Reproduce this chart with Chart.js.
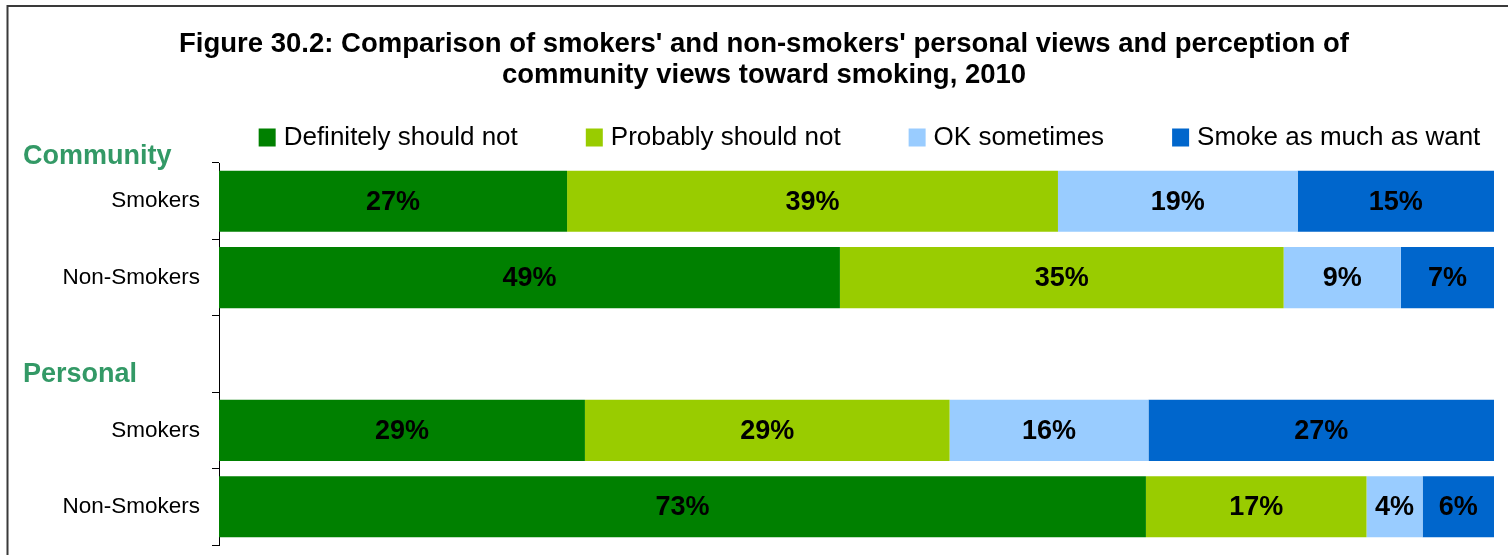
<!DOCTYPE html>
<html>
<head>
<meta charset="utf-8">
<script src="https://cdn.jsdelivr.net/npm/chart.js@4/dist/chart.umd.min.js"></script>
<style>
  html, body { margin: 0; padding: 0; background: #fff; }
  #wrap { width: 1508px; height: 555px; position: relative; }
</style>
</head>
<body>
<div id="wrap"><canvas id="c" width="1508" height="555"></canvas></div>
<script>
// ---- Data ----
const titleLines = [
  "Figure 30.2: Comparison of smokers' and non-smokers' personal views and perception of",
  "community views toward smoking, 2010"
];
const categories = ['Smokers', 'Non-Smokers', '', 'Smokers', 'Non-Smokers'];
const groupLabels = ['Community', 'Personal'];
const seriesNames = ['Definitely should not', 'Probably should not', 'OK sometimes', 'Smoke as much as want'];
const definitelyNot = [27.3, 48.7, null, 28.7, 72.7];
const probablyNot   = [38.5, 34.8, null, 28.6, 17.3];
const okSometimes   = [18.8,  9.2, null, 15.6,  4.4];
const smokeAsMuch   = [15.4,  7.3, null, 27.1,  5.6];
const seriesColors = ['#008000', '#99CC00', '#99CCFF', '#0066CC'];

const FONT = "'Liberation Sans', Arial, Helvetica, sans-serif";

const decorPlugin = {
  id: 'decor',
  beforeDraw(chart) {
    const ctx = chart.ctx;
    ctx.save();
    ctx.fillStyle = '#ffffff';
    ctx.fillRect(0, 0, chart.width, chart.height);
    // outer frame
    ctx.strokeStyle = '#3a3a3a';
    ctx.lineWidth = 2;
    ctx.strokeRect(7.5, 6, 1514, 620);
    ctx.restore();
  },
  afterDraw(chart) {
    const ctx = chart.ctx;
    ctx.save();
    // title
    ctx.fillStyle = '#000';
    ctx.font = "bold 27.5px " + FONT;
    ctx.textAlign = 'center';
    ctx.textBaseline = 'middle';
    titleLines.forEach((t, i) => ctx.fillText(t, 764, 44 + i * 31.5));

    // legend
    ctx.font = "26px " + FONT;
    const box = 17, gap = 8, pad = 68;
    const ds = chart.data.datasets;
    const widths = ds.map(d => box + gap + ctx.measureText(d.label).width);
    const total = widths.reduce((a, b) => a + b, 0) + pad * (ds.length - 1);
    let x = 869.5 - total / 2;
    const ly = 137.5;
    ctx.textAlign = 'left';
    ds.forEach((d, i) => {
      ctx.fillStyle = d.backgroundColor;
      ctx.fillRect(x, ly - box / 2 - 0.5, box, box + 1);
      ctx.fillStyle = '#000';
      ctx.fillText(d.label, x + box + gap, ly);
      x += widths[i] + pad;
    });

    // group labels
    ctx.font = "bold 27px " + FONT;
    ctx.fillStyle = '#339966';
    const yScale = chart.scales.y;
    ctx.fillText(groupLabels[0], 23, yScale.getPixelForValue(0) - 45);
    ctx.fillText(groupLabels[1], 23, yScale.getPixelForValue(2) + 21);
    ctx.restore();
  },
  afterDatasetsDraw(chart) {
    const ctx = chart.ctx;
    ctx.save();
    ctx.font = "bold 27px " + FONT;
    ctx.fillStyle = '#000';
    ctx.textAlign = 'center';
    ctx.textBaseline = 'middle';
    chart.data.datasets.forEach((d, di) => {
      const meta = chart.getDatasetMeta(di);
      meta.data.forEach((el, i) => {
        const v = d.data[i];
        if (v === null || v === undefined) return;
        ctx.fillText(Math.round(v) + '%', (el.x + el.base) / 2, el.y + 1);
      });
    });
    ctx.restore();
  }
};

const seriesData = [definitelyNot, probablyNot, okSometimes, smokeAsMuch];

new Chart(document.getElementById('c'), {
  type: 'bar',
  data: {
    labels: categories,
    datasets: seriesNames.map((name, i) => ({
      label: name,
      data: seriesData[i],
      backgroundColor: seriesColors[i],
      borderWidth: 0,
      barPercentage: 0.8,
      categoryPercentage: 1.0
    }))
  },
  options: {
    indexAxis: 'y',
    responsive: false,
    animation: false,
    devicePixelRatio: 1,
    layout: { padding: { top: 163, bottom: 10, left: 0, right: 14 } },
    plugins: {
      legend: { display: false },
      title: { display: false },
      tooltip: { enabled: false }
    },
    scales: {
      x: {
        stacked: true,
        display: false,
        min: 0,
        max: 100
      },
      y: {
        stacked: true,
        afterFit(scale) {
          scale.width = 219;
          scale.paddingTop = 0;
          scale.paddingBottom = 0;
        },
        grid: {
          offset: true,
          drawOnChartArea: false,
          drawTicks: true,
          tickLength: 7,
          color: '#000'
        },
        border: { display: true, color: '#000', width: 1 },
        ticks: {
          padding: 12,
          color: '#000',
          font: { family: FONT, size: 22.5 }
        }
      }
    }
  },
  plugins: [decorPlugin]
});
</script>
</body>
</html>
